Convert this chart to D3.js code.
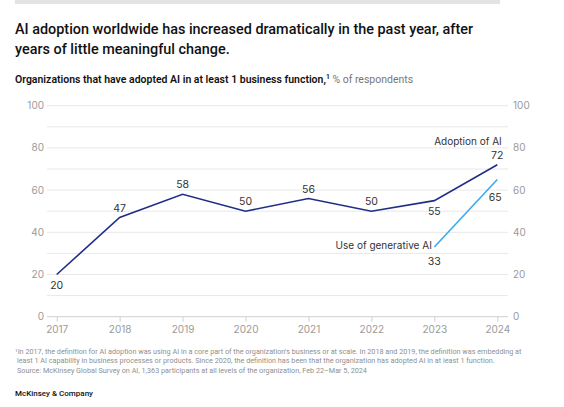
<!DOCTYPE html>
<html>
<head>
<meta charset="utf-8">
<script src="https://cdn.jsdelivr.net/npm/d3@7"></script>
<style>
  body { margin: 0; background: #fff; }
  svg { font-family: Inter, "Noto Sans", sans-serif; display: block; }
</style>
</head>
<body>
<svg id="chart" width="564" height="407"></svg>
<script>
const years = [2017, 2018, 2019, 2020, 2021, 2022, 2023, 2024];
const adoption = [20, 47, 58, 50, 56, 50, 55, 72];
const genAiYears = [2023, 2024];
const genAi = [33, 65];
const yTicks = [0, 20, 40, 60, 80, 100];
const gridValues = [0, 10, 20, 30, 40, 50, 60, 70, 80, 90, 100];
// which side of the point each adoption label sits
const adoptionLabelPos = ['below', 'above', 'above', 'above', 'above', 'above', 'below', 'above'];

const svg = d3.select('#chart');

// shrink/grow a text's font so it spans the wanted width
function fitWidth(sel, target) {
  const size = +sel.attr('font-size');
  const w = sel.node().getComputedTextLength();
  sel.attr('font-size', (size * target / w).toFixed(2));
}

// top grey rule
svg.append('rect')
  .attr('x', 15).attr('y', 0)
  .attr('width', 485).attr('height', 4)
  .attr('fill', '#e3e3e3');

// title
const titleLines = ['AI adoption worldwide has increased dramatically in the past year, after',
                    'years of little meaningful change.'];
const t1 = svg.append('text')
  .attr('x', 15).attr('y', 34)
  .attr('font-family', 'Roboto, sans-serif')
  .attr('font-size', 16).attr('font-weight', 500).attr('fill', '#111')
  .text(titleLines[0]);
fitWidth(t1, 458);
svg.append('text')
  .attr('x', 15).attr('y', 53.5)
  .attr('font-family', 'Roboto, sans-serif')
  .attr('font-size', t1.attr('font-size')).attr('font-weight', 500).attr('fill', '#111')
  .text(titleLines[1]);

// subtitle
const sub = svg.append('text')
  .attr('x', 15).attr('y', 83)
  .attr('font-family', 'Roboto, sans-serif')
  .attr('font-size', 10.8).attr('fill', '#111');
sub.append('tspan').attr('font-weight', 600).text('Organizations that have adopted AI in at least 1 business function,');
sub.append('tspan').attr('font-size', '0.65em').attr('dy', -4).attr('font-weight', 600).text('1');
sub.append('tspan').attr('dy', 4).attr('fill', '#777').text(' % of respondents');
fitWidth(sub, 398);

// scales
const x = d3.scalePoint().domain(years).range([56.7, 497.3]);
const y = d3.scaleLinear().domain([0, 100]).range([316.7, 105.7]);
const left = 47, right = 508;

// gridlines
svg.append('g')
  .selectAll('line')
  .data(gridValues)
  .enter().append('line')
  .attr('x1', left).attr('x2', right)
  .attr('y1', d => y(d)).attr('y2', d => y(d))
  .attr('stroke', d => d === 0 ? '#cfcfcf' : '#e8e8e8')
  .attr('stroke-width', 1);

// left axis labels
svg.append('g')
  .selectAll('text')
  .data(yTicks)
  .enter().append('text')
  .attr('x', 44).attr('y', d => y(d))
  .attr('dy', '0.35em')
  .attr('text-anchor', 'end')
  .attr('font-size', 10).attr('fill', '#9a9a9a')
  .text(d => d);

// right axis labels
svg.append('g')
  .selectAll('text')
  .data(yTicks)
  .enter().append('text')
  .attr('x', 513).attr('y', d => y(d))
  .attr('dy', '0.35em')
  .attr('text-anchor', 'start')
  .attr('font-size', 10).attr('fill', '#9a9a9a')
  .text(d => d);

// x axis
const xAxis = d3.axisBottom(x).tickSize(5).tickPadding(4);
const gx = svg.append('g')
  .attr('transform', `translate(0, ${y(0)})`)
  .call(xAxis);
gx.select('.domain').remove();
gx.selectAll('.tick line').attr('stroke', '#cfcfcf');
gx.selectAll('.tick text')
  .attr('font-family', 'Inter, "Noto Sans", sans-serif')
  .attr('font-size', 10).attr('fill', '#9a9a9a');

// lines
const line = d3.line().x(d => x(d[0])).y(d => y(d[1]));
svg.append('path')
  .datum(years.map((yr, i) => [yr, adoption[i]]))
  .attr('d', line)
  .attr('fill', 'none')
  .attr('stroke', '#1f2d86')
  .attr('stroke-width', 1.6)
  .attr('stroke-linejoin', 'miter');

svg.append('path')
  .datum(genAiYears.map((yr, i) => [yr, genAi[i]]))
  .attr('d', line)
  .attr('fill', 'none')
  .attr('stroke', '#3aa8f5')
  .attr('stroke-width', 1.6);

// data labels, adoption
svg.append('g')
  .selectAll('text')
  .data(years.map((yr, i) => ({ yr, v: adoption[i], pos: adoptionLabelPos[i] })))
  .enter().append('text')
  .attr('x', d => x(d.yr))
  .attr('y', d => y(d.v) + (d.pos === 'above' ? -9.5 : 11))
  .attr('dy', '0.35em')
  .attr('text-anchor', 'middle')
  .attr('font-size', 10.5).attr('fill', '#333')
  .text(d => d.v);

// data labels, gen AI
svg.append('text')
  .attr('x', x(2023)).attr('y', y(genAi[0]) + 14.5)
  .attr('dy', '0.35em').attr('text-anchor', 'middle')
  .attr('font-size', 10.5).attr('fill', '#333')
  .text(genAi[0]);
svg.append('text')
  .attr('x', x(2024) - 2).attr('y', y(genAi[1]) + 18)
  .attr('dy', '0.35em').attr('text-anchor', 'middle')
  .attr('font-size', 10.5).attr('fill', '#333')
  .text(genAi[1]);

// series names
svg.append('text')
  .attr('x', x(2024) + 4.5).attr('y', y(adoption[7]) - 23)
  .attr('dy', '0.35em').attr('text-anchor', 'end')
  .attr('font-size', 10).attr('fill', '#333')
  .text('Adoption of AI');
svg.append('text')
  .attr('x', x(2023) - 2.5).attr('y', y(genAi[0]) - 2)
  .attr('dy', '0.35em').attr('text-anchor', 'end')
  .attr('font-size', 10).attr('fill', '#333')
  .text('Use of generative AI');

// footnotes
const notes = [
  { x: 15, t: '\u00b9In 2017, the definition for AI adoption was using AI in a core part of the organization\u2019s business or at scale. In 2018 and 2019, the definition was embedding at' },
  { x: 17, t: 'least 1 AI capability in business processes or products. Since 2020, the definition has been that the organization has adopted AI in at least 1 function.' },
  { x: 17, t: 'Source: McKinsey Global Survey on AI, 1,363 participants at all levels of the organization, Feb 22\u2013Mar 5, 2024' }
];
const noteSel = svg.append('g')
  .attr('font-family', 'Roboto, sans-serif')
  .selectAll('text')
  .data(notes)
  .enter().append('text')
  .attr('x', d => d.x)
  .attr('y', (d, i) => 353.5 + i * 9.8)
  .attr('font-size', 7).attr('fill', '#8f8f8f')
  .text(d => d.t);
const n1 = d3.select(noteSel.nodes()[0]);
fitWidth(n1, 507);
noteSel.attr('font-size', n1.attr('font-size'));

svg.append('text')
  .attr('x', 15).attr('y', 396)
  .attr('font-family', 'Roboto, sans-serif')
  .attr('font-size', 8).attr('font-weight', 500).attr('fill', '#111')
  .text('McKinsey & Company');
</script>
</body>
</html>
